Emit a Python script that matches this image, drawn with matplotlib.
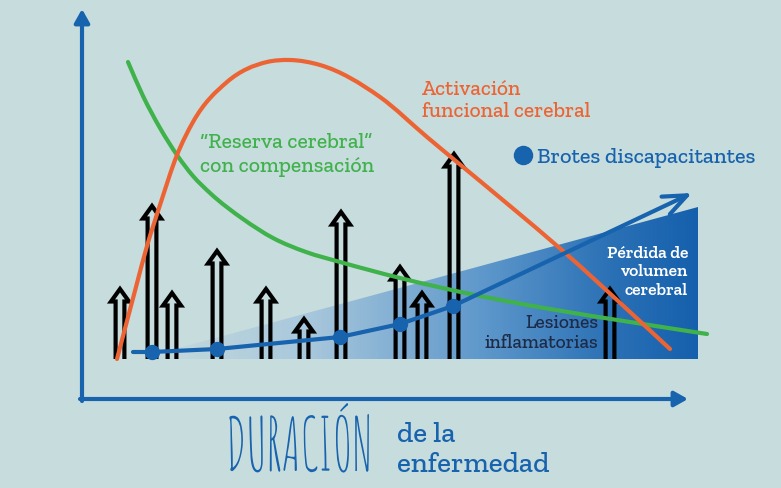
import matplotlib
matplotlib.use("Agg")
import numpy as np
import matplotlib.pyplot as plt
from matplotlib import font_manager as fm
from matplotlib.path import Path
from matplotlib.patches import PathPatch, Polygon
from matplotlib.patheffects import AbstractPathEffect
from matplotlib.transforms import Affine2D
from matplotlib.colors import LinearSegmentedColormap

# ---------------------------------------------------------------------------
# Data: x = disease duration, y = relative level (arbitrary units)
# ---------------------------------------------------------------------------
reserve_x = [44, 59, 76, 93, 109, 126, 159, 189, 222, 256, 316, 396, 466, 546, 623]
reserve_y = [337, 303, 271, 244, 223, 206, 180, 161, 147, 137, 121, 103, 90, 77, 65]

activation_x = [33, 52, 63, 76, 93, 109, 143, 183, 206, 236, 296, 343, 373, 426, 479, 546, 586]
activation_y = [40, 112, 153, 194, 244, 277, 317, 337, 339, 334, 302, 262, 237, 193, 148, 87, 50]

relapse_x = [68, 133, 256, 316, 369]
relapse_y = [47, 50, 62, 75, 93]
relapse_trend_start = (49, 47)
relapse_trend_end = (608, 206)

lesion_x = [36, 68, 88, 133, 182, 220, 257, 316, 338, 370, 526]
lesion_top = [110, 193, 106, 148, 110, 80, 187, 132, 106, 245, 110]
lesion_base = 40

atrophy_x = [54, 614, 614]
atrophy_y = [40, 192, 40]

# ---------------------------------------------------------------------------
# Style
# ---------------------------------------------------------------------------
BG = "#c7dcdc"
BLUE = "#1763ae"
ORANGE = "#ec6434"
GREEN = "#3fb24b"
NAVY = "#1e2b47"

available = {f.name for f in fm.fontManager.ttflist}


def pick(*names):
    for n in names:
        if n in available:
            return n
    return "DejaVu Sans"


SLAB = pick("Zilla Slab", "DejaVu Serif")
HAND = pick("Amatic SC", "Poiret One", "Roboto", "DejaVu Sans")


class Stretch(AbstractPathEffect):
    """Scale glyph outlines about the text origin."""

    def __init__(self, sx=1.0, sy=1.0):
        super().__init__()
        self.sx, self.sy = sx, sy

    def draw_path(self, renderer, gc, tpath, affine, rgbFace=None):
        renderer.draw_path(gc, tpath, Affine2D().scale(self.sx, self.sy) + affine, rgbFace)


def smooth_path(xs, ys):
    """Cubic Hermite curve y(x) through the given points, as Bezier segments."""
    x = np.asarray(xs, float)
    y = np.asarray(ys, float)
    h = np.diff(x)
    d = np.diff(y) / h
    m = np.empty_like(x)
    m[0], m[-1] = d[0], d[-1]
    m[1:-1] = (d[:-1] * h[1:] + d[1:] * h[:-1]) / (h[:-1] + h[1:])
    verts = [(x[0], y[0])]
    codes = [Path.MOVETO]
    for i in range(len(x) - 1):
        verts += [(x[i] + h[i] / 3, y[i] + m[i] * h[i] / 3),
                  (x[i + 1] - h[i] / 3, y[i + 1] - m[i + 1] * h[i] / 3),
                  (x[i + 1], y[i + 1])]
        codes += [Path.CURVE4] * 3
    return Path(verts, codes)


W, H = 781, 489
fig = plt.figure(figsize=(W / 100, H / 100), dpi=100, facecolor=BG)
ax = fig.add_axes([0, 0, 1, 1])
ax.set_facecolor(BG)
ax.axis("off")

# --- brain volume loss: gradient wedge -------------------------------------
wedge = Polygon(np.column_stack([atrophy_x, atrophy_y]), closed=True,
                facecolor="none", edgecolor="none")
ax.add_patch(wedge)
cmap = LinearSegmentedColormap.from_list(
    "vol", [(0.0, BG), (0.3, "#a9c8dc"), (0.62, "#5d97cb"), (0.85, "#2a70b5"), (1.0, "#1560ad")])
grad = np.linspace(0, 1, 256).reshape(1, -1)
img = ax.imshow(grad, cmap=cmap, aspect="auto", interpolation="bilinear",
                extent=[min(atrophy_x), max(atrophy_x), min(atrophy_y), max(atrophy_y)],
                origin="lower", zorder=1)
img.set_clip_path(wedge)
ax.set_xlim(-84, W - 84)
ax.set_ylim(-89, H - 89)

# --- inflammatory lesions: hollow arrows ------------------------------------
shaft, head_w, head_h = 4.4, 9.0, 12.5
for x, top in zip(lesion_x, lesion_top):
    xs = [x - shaft, x - shaft, x - head_w, x, x + head_w, x + shaft, x + shaft]
    ys = [lesion_base, top - head_h, top - head_h, top, top - head_h, top - head_h, lesion_base]
    ax.plot(xs, ys, color="black", lw=3.0, solid_joinstyle="miter",
            solid_capstyle="butt", zorder=3)

# --- curves -----------------------------------------------------------------
ax.add_patch(PathPatch(smooth_path(reserve_x, reserve_y), facecolor="none",
                       edgecolor=GREEN, lw=3.0, capstyle="round", zorder=4))
ax.add_patch(PathPatch(smooth_path(activation_x, activation_y), facecolor="none",
                       edgecolor=ORANGE, lw=3.0, capstyle="round", zorder=5))

# --- disabling relapses -------------------------------------------------------
tx = [relapse_trend_start[0]] + relapse_x
ty = [relapse_trend_start[1]] + relapse_y
ax.plot(tx, ty, color=BLUE, lw=3.0, solid_capstyle="round", zorder=6)
ax.annotate("", xy=relapse_trend_end, xytext=(relapse_x[-1], relapse_y[-1]),
            arrowprops=dict(arrowstyle="->,head_length=1.7,head_width=0.7",
                            color=BLUE, lw=3.0, shrinkA=0, shrinkB=0), zorder=6)
ax.plot(relapse_x, relapse_y, "o", color=BLUE, ms=10, zorder=7)

# --- axes arrows --------------------------------------------------------------
ax.annotate("", xy=(-2, 390), xytext=(-2, -2),
            arrowprops=dict(arrowstyle="-|>,head_length=0.8,head_width=0.45",
                            color=BLUE, lw=3.0, shrinkA=0, shrinkB=0), zorder=8)
ax.annotate("", xy=(604, 0), xytext=(-4, 0),
            arrowprops=dict(arrowstyle="-|>,head_length=0.8,head_width=0.45",
                            color=BLUE, lw=3.0, shrinkA=0, shrinkB=0), zorder=8)

# --- labels -------------------------------------------------------------------
def lines(x, y0, texts, step, **kw):
    for i, t in enumerate(texts):
        ax.text(x, y0 - i * step, t, va="baseline", **kw)


lines(338, 305, ["Activación", "funcional cerebral"], 22,
      color=ORANGE, family=SLAB, fontsize=15.4, weight=500, zorder=9)
lines(116, 252, ["\u201cReserva cerebral\u201d", "con compensación"], 24,
      color=GREEN, family=SLAB, fontsize=15.6, weight=500, zorder=9)
ax.plot([439], [244], "o", color=BLUE, ms=13, zorder=9)
ax.text(453, 237, "Brotes discapacitantes", va="baseline", color=BLUE,
        family=SLAB, fontsize=16, weight=500, zorder=9)
lines(604, 142, ["Pérdida de", "volumen", "cerebral"], 18.5,
      ha="right", color="white", family=SLAB, fontsize=12.6, weight=600, zorder=9)
lines(514, 72, ["Lesiones", "inflamatorias"], 20,
      ha="right", color=NAVY, family=SLAB, fontsize=14, weight=500, zorder=9)

dur = ax.text(142, -72, "DURACIÓN", va="baseline", ha="left", color=BLUE,
              family=HAND, fontsize=34, weight="normal", zorder=9)
fig.canvas.draw()
natural_w = dur.get_window_extent().width
dur.set_path_effects([Stretch(147.0 / natural_w, 1.55)])

lines(313, -42, ["de la", "enfermedad"], 30,
      color=BLUE, family=SLAB, fontsize=21, weight=500, zorder=9)

fig.savefig("out.png", dpi=100, facecolor=BG)
